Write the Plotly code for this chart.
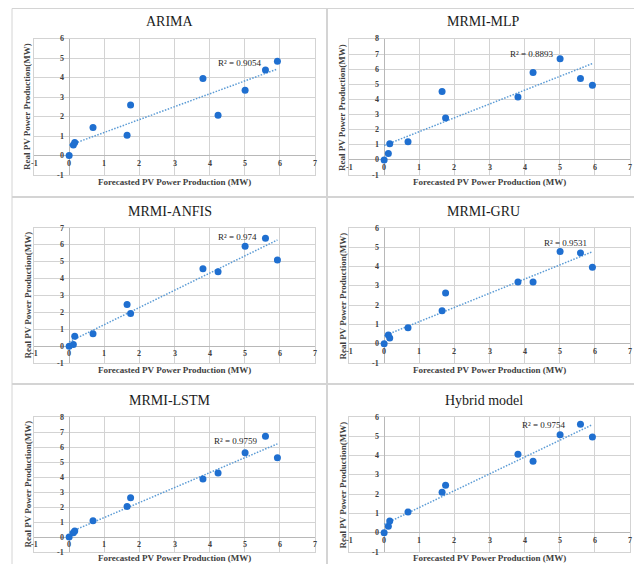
import numpy as np
import plotly.graph_objects as go

# ---------------- data ----------------
forecast = [0.0, 0.12, 0.16, 0.68, 1.65, 1.75, 3.81, 4.24, 5.01, 5.59, 5.93]

models = ["ARIMA", "MRMI-MLP", "MRMI-ANFIS", "MRMI-GRU", "MRMI-LSTM", "Hybrid model"]
real_arima = [0.0, 0.55, 0.67, 1.45, 1.05, 2.60, 3.97, 2.07, 3.36, 4.41, 4.85]
real_mlp = [0.0, 0.42, 1.06, 1.20, 4.52, 2.77, 4.17, 5.79, 6.70, 5.39, 4.94]
real_anfis = [0.0, 0.10, 0.58, 0.74, 2.47, 1.93, 4.59, 4.41, 5.92, 6.40, 5.11]
real_gru = [0.0, 0.45, 0.30, 0.83, 1.71, 2.63, 3.20, 3.20, 4.78, 4.71, 3.96]
real_lstm = [0.0, 0.29, 0.40, 1.08, 2.03, 2.61, 3.87, 4.27, 5.61, 6.72, 5.28]
real_hybrid = [0.0, 0.33, 0.61, 1.07, 2.10, 2.46, 4.07, 3.71, 5.08, 5.62, 4.96]
real_series = [real_arima, real_mlp, real_anfis, real_gru, real_lstm, real_hybrid]

r2_labels = ["R² = 0.9054", "R² = 0.8893", "R² = 0.974", "R² = 0.9531", "R² = 0.9759", "R² = 0.9754"]
r2_pos_x = [4.87, 4.22, 4.80, 5.17, 4.75, 4.55]
r2_pos_y = [4.74, 7.00, 6.46, 5.22, 6.39, 5.56]

x_ticks = [-1, 0, 1, 2, 3, 4, 5, 6, 7]
y_max = [6, 8, 7, 6, 8, 6]
y_min = -1

x_title = "Forecasted PV Power Production (MW)"
y_title = "Real PV Power Production(MW)"

# ---------------- layout helpers ----------------
W, H = 642, 564
OFF = 8  # page body margin offset


def px(x):
    return (x - OFF) / W


def py(y):
    return 1 - (y - OFF) / H


# plot-area pixel boxes in window coordinates (left, right, top, bottom)
boxes = [
    (34, 315, 39, 175),
    (349, 630, 39, 175),
    (34, 315, 228, 363),
    (349, 630, 228, 363),
    (34, 315, 417, 552),
    (349, 630, 417, 552),
]
panel_centers_x = [169.5, 483.5, 169.5, 483.5, 169.5, 483.5]
title_y = [22, 22, 211, 211, 400, 400]
xtitle_y = [182, 182, 370, 370, 558, 558]
ytitle_x = [27, 342, 27, 342, 27, 342]

serif = "Liberation Serif, Times New Roman, serif"
marker_color = "#1f6fd0"
trend_color = "#5b9bd5"
grid_color = "#d3d3d3"

fig = go.Figure()
annotations = []
layout_axes = {}

for i, (name, real) in enumerate(zip(models, real_series)):
    n = i + 1
    xa = "x" if n == 1 else f"x{n}"
    ya = "y" if n == 1 else f"y{n}"
    xk = "xaxis" if n == 1 else f"xaxis{n}"
    yk = "yaxis" if n == 1 else f"yaxis{n}"
    l, r, t, b = boxes[i]

    # trendline (least squares from data)
    xs = np.array(forecast)
    ys = np.array(real)
    slope, intercept = np.polyfit(xs, ys, 1)
    tx = np.array([xs.min(), xs.max()])
    fig.add_trace(go.Scatter(
        x=tx, y=slope * tx + intercept, mode="lines",
        line=dict(color=trend_color, width=1.5, dash="1.5px,1.5px"),
        xaxis=xa, yaxis=ya, showlegend=False, hoverinfo="skip"))
    fig.add_trace(go.Scatter(
        x=forecast, y=real, mode="markers",
        marker=dict(color=marker_color, size=7),
        xaxis=xa, yaxis=ya, showlegend=False, name=name))

    layout_axes[xk] = dict(
        domain=[px(l), px(r)], anchor=ya, range=[-1, 7], dtick=1, tick0=0,
        showgrid=True, gridcolor=grid_color, gridwidth=1,
        zeroline=True, zerolinecolor="#b8b8b8", zerolinewidth=1,
        showline=True, linecolor=grid_color, linewidth=1, mirror=True,
        showticklabels=False, ticks="", fixedrange=True)
    layout_axes[yk] = dict(
        domain=[py(b), py(t)], anchor=xa, range=[y_min, y_max[i]], dtick=1, tick0=0,
        showgrid=True, gridcolor=grid_color, gridwidth=1,
        zeroline=True, zerolinecolor="#b8b8b8", zerolinewidth=1,
        showline=True, linecolor=grid_color, linewidth=1, mirror=True,
        showticklabels=False, ticks="", fixedrange=True)

    # tick labels placed at the axis crossing (Excel style)
    for v in x_ticks:
        annotations.append(dict(
            x=v, y=0, xref=xa, yref=ya, text=f"<b>{v}</b>", showarrow=False,
            xanchor="center", yanchor="top", yshift=-1,
            font=dict(family=serif, size=8, color="#404040")))
    for v in range(y_min, y_max[i] + 1):
        annotations.append(dict(
            x=0, y=v, xref=xa, yref=ya, text=f"<b>{v}</b>", showarrow=False,
            xanchor="right", yanchor="middle", xshift=-3,
            font=dict(family=serif, size=8, color="#404040")))

    # R² label
    annotations.append(dict(
        x=r2_pos_x[i], y=r2_pos_y[i], xref=xa, yref=ya, text=r2_labels[i],
        showarrow=False, xanchor="center", yanchor="middle",
        font=dict(family=serif, size=9, color="#262626")))

    # panel title
    annotations.append(dict(
        x=px(panel_centers_x[i]), y=py(title_y[i]), xref="paper", yref="paper",
        text=name, showarrow=False, xanchor="center", yanchor="middle",
        font=dict(family=serif, size=14, color="#1a1a1a")))
    # x axis title
    annotations.append(dict(
        x=px((l + r) / 2), y=py(xtitle_y[i]), xref="paper", yref="paper",
        text=f"<b>{x_title}</b>", showarrow=False, xanchor="center", yanchor="middle",
        borderpad=0,
        font=dict(family=serif, size=9, color="#404040")))
    # y axis title
    annotations.append(dict(
        x=px(ytitle_x[i]), y=py((t + b) / 2), xref="paper", yref="paper",
        text=f"<b>{y_title}</b>", showarrow=False, textangle=-90,
        xanchor="center", yanchor="middle",
        font=dict(family=serif, size=9, color="#404040")))

# panel frame lines
frame_color = "#d4d4d4"
top = 8.5
shapes = [
    dict(type="line", xref="paper", yref="paper", x0=px(12), x1=px(12), y0=py(top), y1=py(572),
         line=dict(color=frame_color, width=1)),
    dict(type="line", xref="paper", yref="paper", x0=px(640), x1=px(640), y0=py(top), y1=py(572),
         line=dict(color=frame_color, width=1)),
    dict(type="line", xref="paper", yref="paper", x0=px(12), x1=px(640), y0=py(top), y1=py(top),
         line=dict(color=frame_color, width=1)),
    dict(type="line", xref="paper", yref="paper", x0=px(327), x1=px(327), y0=py(top), y1=py(572),
         line=dict(color=frame_color, width=2)),
    dict(type="line", xref="paper", yref="paper", x0=px(12), x1=px(640), y0=py(197), y1=py(197),
         line=dict(color=frame_color, width=2)),
    dict(type="line", xref="paper", yref="paper", x0=px(12), x1=px(640), y0=py(384), y1=py(384),
         line=dict(color=frame_color, width=2)),
]

fig.update_layout(
    width=W, height=H,
    margin=dict(l=0, r=0, t=0, b=0),
    paper_bgcolor="white", plot_bgcolor="white",
    showlegend=False,
    annotations=annotations,
    shapes=shapes,
    **layout_axes,
)

fig.write_html("out.html")
